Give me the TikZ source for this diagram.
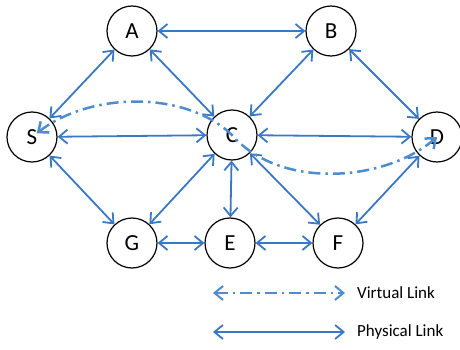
\documentclass[tikz,border=0pt]{standalone}
\usepackage{fontspec}
\setmainfont{Carlito}
\usetikzlibrary{arrows.meta}
\definecolor{linkblue}{RGB}{58,120,196}
\definecolor{virtblue}{RGB}{78,140,208}
\tikzset{
  station/.style={circle,draw,line width=1.2pt,minimum size=50pt,inner sep=0pt,font=\fontsize{23}{26}\selectfont},
  phys/.style={linkblue,line width=1.8pt,{Straight Barb[length=8.5pt,width=14pt]}-{Straight Barb[length=8.5pt,width=14pt]}},
  virt/.style={phys,virtblue,line width=2.5pt,dash pattern=on 12pt off 5pt on 2.5pt off 5pt},
  legendtext/.style={anchor=west,inner sep=0pt,font=\fontsize{17}{20}\selectfont}
}
\begin{document}
\begin{tikzpicture}[x=1pt,y=-1pt]
\useasboundingbox (0,0) rectangle (460,350);
\node[station] (A) at (132,31) {A};
\node[station] (B) at (331,31) {B};
\node[station] (S) at (32,137) {S};
\node[station] (C) at (232,135) {C};
\node[station] (D) at (437,137) {D};
\node[station] (G) at (132,243) {G};
\node[station] (E) at (230,243) {E};
\node[station] (F) at (338,243) {F};
\draw[phys] (A)--(B);
\draw[phys] (S)--(A);
\draw[phys] (A)--(C);
\draw[phys] (C)--(B);
\draw[phys] (B)--(D);
\draw[phys] (S)--(C);
\draw[phys] (C)--(D);
\draw[phys] (S)--(G);
\draw[phys] (G)--(C);
\draw[phys] (C)--(E);
\draw[phys] (C)--(F);
\draw[phys] (G)--(E);
\draw[phys] (E)--(F);
\draw[phys] (F)--(D);
\draw[virt,shorten <=6pt] (S.center) .. controls (90,92) and (185,90) .. (C.center)
  .. controls (280,190) and (385,182) .. (D.center);
% legend
\coordinate (v1) at (213,293);
\coordinate (v2) at (345,293);
\coordinate (p1) at (213,332);
\coordinate (p2) at (345,332);
\draw[virt,line width=2pt] (v1)--(v2);
\node[legendtext] (vl) at (357,293) {Virtual Link};
\draw[phys] (p1)--(p2);
\node[legendtext] (pl) at (357,332) {Physical Link};
\end{tikzpicture}
\end{document}
